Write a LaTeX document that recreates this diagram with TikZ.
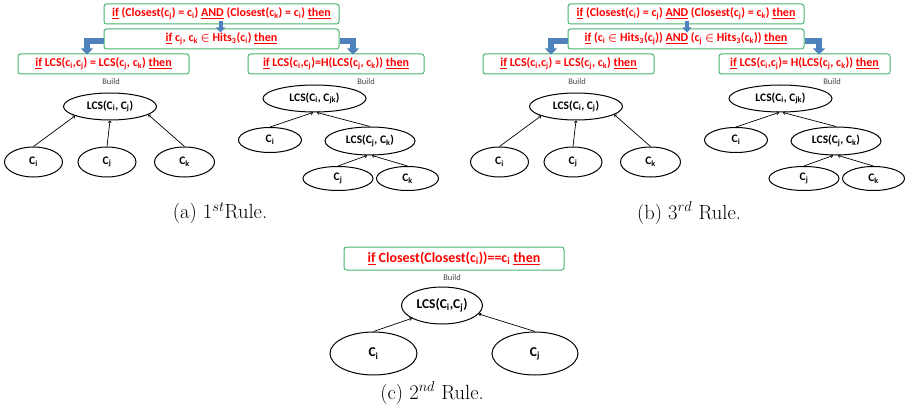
\documentclass[tikz,border=0pt]{standalone}
\usepackage{fontspec}
\newfontfamily\calib{Carlito}
\usetikzlibrary{shapes.geometric,arrows.meta}
\definecolor{rulegreen}{RGB}{70,180,110}
\definecolor{arrowblue}{RGB}{79,129,189}
\newsavebox\ulbox
\newcommand\myul[1]{\sbox\ulbox{#1}\rlap{\rule[-2.2pt]{\wd\ulbox}{1.1pt}}\usebox\ulbox}
\newcommand\sbs[1]{\textsubscript{#1}}
\begin{document}
\begin{tikzpicture}[x=1pt,y=-1pt,
 rulebox/.style={draw=rulegreen, line width=1pt, rounded corners=2.5pt, inner sep=0pt, minimum height=20pt, text=red, font=\calib\bfseries\fontsize{12}{14}\selectfont},
 ell/.style={draw, ellipse, line width=1pt, inner sep=0pt, font=\calib\bfseries\fontsize{11.5}{13}\selectfont},
 buildlbl/.style={text=black!72, font=\calib\fontsize{8.5}{10}\selectfont, inner sep=0pt},
 bluearrow/.style={draw=arrowblue, line width=6pt, -{Triangle[width=12pt,length=6pt]}},
 smallblue/.style={draw=arrowblue, line width=4pt, -{Triangle[width=9pt,length=5pt]}},
 treearrow/.style={line width=0.7pt, -{To[length=2.5pt,width=3.5pt]}},
 captext/.style={font=\fontsize{20.5}{24}\selectfont, inner sep=0pt}
]
\useasboundingbox (0,0) rectangle (907,409);

% ---------- (a) boxes ----------
\node[rulebox, minimum width=235pt] (at1) at (221.5,14) {\myul{if} (Closest(c\sbs{j}) = c\sbs{i}) \myul{AND} (Closest(c\sbs{k}) = c\sbs{i}) \myul{then}};
\node[rulebox, minimum width=235pt] (at2) at (221.5,39) {\myul{if} c\sbs{j}, c\sbs{k} {\boldmath$\in$} Hits\sbs{3}(c\sbs{i}) \myul{then}};
\node[rulebox, minimum width=171pt] (al) at (103.5,64) {\myul{if} LCS(c\sbs{i},c\sbs{j}) = LCS(c\sbs{j}, c\sbs{k}) \myul{then}};
\node[rulebox, minimum width=176pt] (ar) at (336,64) {\myul{if} LCS(c\sbs{i},c\sbs{j})=H(LCS(c\sbs{j}, c\sbs{k})) \myul{then}};
\draw[smallblue] ([xshift=-1pt,yshift=3pt]at1.south) -- ([xshift=-1pt,yshift=-4pt]at2.north);
\draw[bluearrow] ([yshift=-2pt]at2.west) -| ([xshift=-16.5pt,yshift=-1pt]al.north);
\draw[bluearrow] ([yshift=-2pt]at2.east) -| ([xshift=17pt,yshift=-1pt]ar.north);

% ---------- (b) boxes ----------
\node[rulebox, minimum width=236pt] (bt1) at (686,14) {\myul{if} (Closest(c\sbs{i}) = c\sbs{j}) \myul{AND} (Closest(c\sbs{j}) = c\sbs{k}) \myul{then}};
\node[rulebox, minimum width=236pt] (bt2) at (686,39) {\myul{if} (c\sbs{i} {\boldmath$\in$} Hits\sbs{3}(c\sbs{j})) \myul{AND} (c\sbs{j} {\boldmath$\in$} Hits\sbs{3}(c\sbs{k})) \myul{then}};
\node[rulebox, minimum width=171pt] (bl) at (568.5,64) {\myul{if} LCS(c\sbs{i},c\sbs{j}) = LCS(c\sbs{j}, c\sbs{k}) \myul{then}};
\node[rulebox, minimum width=171pt] (br) at (804.5,64) {\myul{if} LCS(c\sbs{i},c\sbs{j})= H(LCS(c\sbs{j}, c\sbs{k})) \myul{then}};
\draw[smallblue] ([xshift=1pt,yshift=3pt]bt1.south) -- ([xshift=1pt,yshift=-4pt]bt2.north);
\draw[bluearrow] ([yshift=-2pt]bt2.west) -| ([xshift=-17.5pt,yshift=-1pt]bl.north);
\draw[bluearrow] ([yshift=-2pt]bt2.east) -| ([xshift=14.5pt,yshift=-1pt]br.north);

% ---------- trees (a) and (b) ----------
\foreach \dx/\p in {0/a,466/b}{
\begin{scope}[xshift=\dx pt]
\node[buildlbl] (\p B1) at (111,82) {Build};
\node[ell, minimum width=93pt, minimum height=27pt] (\p L) at (110,106.5) {LCS(C\sbs{i}, C\sbs{j})};
\node[ell, minimum width=58pt, minimum height=30pt] (\p Li) at (33.5,162) {C\sbs{i}};
\node[ell, minimum width=58pt, minimum height=30pt] (\p Lj) at (107,162) {C\sbs{j}};
\node[ell, minimum width=60pt, minimum height=30pt] (\p Lk) at (184.5,162) {C\sbs{k}};
\draw[treearrow] (\p Li.north) -- (\p L.195);
\draw[treearrow] (\p Lj.north) -- (\p L.south);
\draw[treearrow] (\p Lk.north) -- (\p L.-12);
\node[buildlbl] (\p B2) at (366,82) {Build};
\node[ell, minimum width=103pt, minimum height=27pt] (\p R) at (314.5,98.5) {LCS(C\sbs{i}, C\sbs{jk})};
\node[ell, minimum width=63pt, minimum height=25pt] (\p Ri) at (270,140) {C\sbs{i}};
\node[ell, minimum width=90pt, minimum height=28pt] (\p Rjk) at (370,141) {LCS(C\sbs{j}, C\sbs{k})};
\node[ell, minimum width=70pt, minimum height=24pt] (\p Rj) at (338,178.5) {C\sbs{j}};
\node[ell, minimum width=62pt, minimum height=24pt] (\p Rk) at (407.5,178.5) {C\sbs{k}};
\draw[treearrow] (\p Ri.north) -- ([xshift=-1.5pt]\p R.south);
\draw[treearrow] (\p Rjk.north) -- ([xshift=2.5pt]\p R.south);
\draw[treearrow] (\p Rj.north) -- ([xshift=-3pt]\p Rjk.south);
\draw[treearrow] (\p Rk.north) -- ([xshift=2pt]\p Rjk.south);
\end{scope}
}

% ---------- (c) ----------
\node[rulebox, minimum width=220pt, minimum height=23pt, font=\calib\bfseries\fontsize{14}{16}\selectfont] (ct) at (454,258.5) {\myul{if} Closest(Closest(c\sbs{i}))==c\sbs{i} \myul{then}};
\node[buildlbl] (cB) at (452,278) {Build};
\node[ell, minimum width=81pt, minimum height=37pt, font=\calib\bfseries\fontsize{13.5}{15}\selectfont] (cL) at (442,305.5) {LCS(C\sbs{i},C\sbs{j})};
\node[ell, minimum width=87pt, minimum height=43pt, font=\calib\bfseries\fontsize{13.5}{15}\selectfont] (cLi) at (373.5,353.5) {C\sbs{i}};
\node[ell, minimum width=86pt, minimum height=43pt, font=\calib\bfseries\fontsize{13.5}{15}\selectfont] (cLj) at (535,353.5) {C\sbs{j}};
\draw[treearrow] (cLi.north) -- (cL.203);
\draw[treearrow] (cLj.north) -- (cL.-13);

% ---------- captions ----------
\node[captext] (capa) at (220,213) {(a) $1^{st}$Rule.};
\node[captext] (capb) at (689,213) {(b) $3^{rd}$ Rule.};
\node[captext] (capc) at (432,393) {(c) $2^{nd}$ Rule.};
\end{tikzpicture}
\end{document}
